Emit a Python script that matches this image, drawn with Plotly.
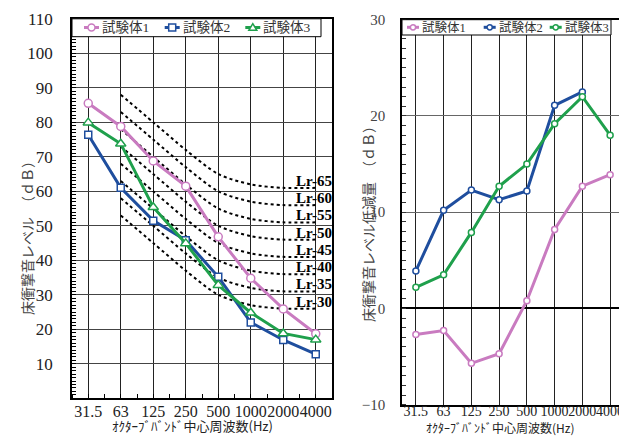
import plotly.graph_objects as go

# ---------------- data ----------------
freq_labels = ["31.5", "63", "125", "250", "500", "1000", "2000", "4000"]
series_names = ["試験体1", "試験体2", "試験体3"]

# 床衝撃音レベル (dB)
level_s1 = [85.5, 78.8, 68.8, 61.5, 46.8, 34.8, 25.9, 18.7]
level_s2 = [76.4, 61.0, 51.5, 45.8, 35.2, 22.0, 16.9, 12.8]
level_s3 = [79.9, 73.8, 55.4, 44.9, 32.8, 24.8, 18.8, 17.0]

# 床衝撃音レベル低減量 (dB)
reduct_s1 = [-2.7, -2.3, -5.7, -4.7, 0.8, 8.2, 12.7, 13.9]
reduct_s2 = [3.9, 10.2, 12.3, 11.3, 12.2, 21.1, 22.5, None]
reduct_s3 = [2.2, 3.5, 7.9, 12.7, 15.0, 19.2, 22.0, 18.0]

# Lr reference curves (63 Hz .. 4000 Hz)
lr_freq_labels = ["63", "125", "250", "500", "1000", "2000", "4000"]
lr_names = ["Lr-65", "Lr-60", "Lr-55", "Lr-50", "Lr-45", "Lr-40", "Lr-35", "Lr-30"]
lr65 = [88, 80, 72, 65, 62, 61, 61]
lr60 = [83, 75, 67, 60, 57, 56, 56]
lr55 = [78, 70, 62, 55, 52, 51, 51]
lr50 = [73, 65, 57, 50, 47, 46, 46]
lr45 = [68, 60, 52, 45, 42, 41, 41]
lr40 = [63, 55, 47, 40, 37, 36, 36]
lr35 = [58, 50, 42, 35, 32, 31, 31]
lr30 = [53, 45, 37, 30, 27, 26, 26]
lr_curves = [lr65, lr60, lr55, lr50, lr45, lr40, lr35, lr30]

left_ytick_vals = [10, 20, 30, 40, 50, 60, 70, 80, 90, 100, 110]
right_ytick_vals = [-10, 0, 10, 20, 30]

# ---------------- style ----------------
PINK = "#C97BC0"
BLUE = "#1F4E9E"
GREEN = "#1FA04C"
SERIF = "Liberation Serif, Noto Sans CJK JP"
JP = "Noto Sans CJK JP"

W, H = 627, 436

def fx(px):
    return px / W

def fy(py):
    return 1 - py / H

pos = {f: i for i, f in enumerate(freq_labels)}
xs = [pos[f] for f in freq_labels]
lr_xs = [pos[f] for f in lr_freq_labels]

fig = go.Figure()

# Lr curves
for name, vals in zip(lr_names, lr_curves):
    fig.add_trace(go.Scatter(
        x=lr_xs, y=vals, mode="lines", xaxis="x", yaxis="y",
        line=dict(color="black", width=2, dash="dot", shape="spline", smoothing=0.8),
        showlegend=False, hoverinfo="skip"))

left_specs = [
    (level_s1, PINK, "circle", 8),
    (level_s2, BLUE, "square", 7),
    (level_s3, GREEN, "triangle-up", 9),
]
for name, (vals, col, sym, sz) in zip(series_names, left_specs):
    fig.add_trace(go.Scatter(
        x=xs, y=vals, mode="lines+markers", name=name, xaxis="x", yaxis="y",
        line=dict(color=col, width=3),
        marker=dict(symbol=sym, size=sz, color="white", line=dict(color=col, width=1.5)),
        showlegend=False))

right_specs = [(reduct_s1, PINK), (reduct_s2, BLUE), (reduct_s3, GREEN)]
for name, (vals, col) in zip(series_names, right_specs):
    fig.add_trace(go.Scatter(
        x=xs, y=vals, mode="lines+markers", name=name, xaxis="x2", yaxis="y2",
        line=dict(color=col, width=3),
        marker=dict(symbol="circle", size=6, color="white", line=dict(color=col, width=1.5)),
        showlegend=False))

# Lr labels
for name, vals in zip(lr_names, lr_curves):
    fig.add_annotation(x=7.5, y=vals[-1], xref="x", yref="y", text="<b>%s</b>" % name,
                       showarrow=False, xanchor="right", yanchor="middle", yshift=7, xshift=2,
                       font=dict(family="Liberation Serif", size=15, color="black"))

# ---------------- hand-built legends (layout decoration) ----------------
def draw_legend(box, starts, yc, line_len, symbols, colors, font_size, msize):
    x0, x1, y0, y1 = box
    fig.add_shape(type="rect", xref="paper", yref="paper",
                  x0=fx(x0), x1=fx(x1), y0=fy(y1), y1=fy(y0),
                  fillcolor="white", line=dict(color="black", width=1))
    for s, sym, col, name in zip(starts, symbols, colors, series_names):
        fig.add_shape(type="line", xref="paper", yref="paper",
                      x0=fx(s), x1=fx(s + line_len), y0=fy(yc), y1=fy(yc),
                      line=dict(color=col, width=3))
        cx = s + line_len / 2
        r = msize
        if sym == "circle":
            fig.add_shape(type="circle", xref="paper", yref="paper",
                          x0=fx(cx - r), x1=fx(cx + r), y0=fy(yc + r), y1=fy(yc - r),
                          fillcolor="white", line=dict(color=col, width=1.5))
        elif sym == "square":
            fig.add_shape(type="rect", xref="paper", yref="paper",
                          x0=fx(cx - r), x1=fx(cx + r), y0=fy(yc + r), y1=fy(yc - r),
                          fillcolor="white", line=dict(color=col, width=1.5))
        else:
            path = "M %f,%f L %f,%f L %f,%f Z" % (
                fx(cx - r - 0.5), fy(yc + r * 0.8), fx(cx + r + 0.5), fy(yc + r * 0.8),
                fx(cx), fy(yc - r * 1.1))
            fig.add_shape(type="path", xref="paper", yref="paper", path=path,
                          fillcolor="white", line=dict(color=col, width=1.5))
        fig.add_annotation(x=fx(s + line_len + 1), y=fy(yc), xref="paper", yref="paper",
                           text=name, showarrow=False, xanchor="left", yanchor="middle",
                           font=dict(family=SERIF, size=font_size, color="#333"))

draw_legend((64, 313, 10.8, 28.7), [76, 156.7, 237.3], 19.5, 15,
            ["circle", "square", "triangle"], [PINK, BLUE, GREEN], 13.5, 3.5)
draw_legend((394, 603, 11.7, 27), [399, 475.7, 541.7], 19.3, 12,
            ["circle", "circle", "circle"], [PINK, BLUE, GREEN], 12.5, 2.6)

# axis titles
fig.add_annotation(x=fx(19), y=fy(227), xref="paper", yref="paper", text="床衝撃音レベル　（ｄＢ）",
                   textangle=-90, showarrow=False, xanchor="center", yanchor="middle",
                   font=dict(family=JP, size=14, color="#444"))
fig.add_annotation(x=fx(360), y=fy(213), xref="paper", yref="paper", text="床衝撃音レベル低減量　（ｄＢ）",
                   textangle=-90, showarrow=False, xanchor="center", yanchor="middle",
                   font=dict(family=JP, size=14, color="#444"))
fig.add_annotation(x=fx(184), y=fy(417), xref="paper", yref="paper", text="ｵｸﾀｰﾌﾞﾊﾞﾝﾄﾞ中心周波数(Hz)",
                   showarrow=False, xanchor="center", yanchor="middle",
                   font=dict(family=JP, size=13, color="#222"))
fig.add_annotation(x=fx(492), y=fy(419.5), xref="paper", yref="paper", text="ｵｸﾀｰﾌﾞﾊﾞﾝﾄﾞ中心周波数(Hz)",
                   showarrow=False, xanchor="center", yanchor="middle",
                   font=dict(family=JP, size=12, color="#222"))

left_xdom = [fx(64), fx(324)]
right_xdom = [fx(394), fx(616)]

fig.update_layout(
    width=W, height=H, margin=dict(l=0, r=0, t=0, b=0, autoexpand=False),
    paper_bgcolor="white", plot_bgcolor="white", showlegend=False,
    font=dict(family=SERIF, color="#222"),
    xaxis=dict(domain=left_xdom, anchor="y", range=[-0.5, 7.5], tickmode="array",
               tickvals=xs, ticktext=freq_labels, tickangle=0, automargin=False,
               showgrid=True, gridcolor="#222", gridwidth=1.2,
               showline=True, linecolor="black", linewidth=1.5, mirror=True, ticks="",
               ticklabelstandoff=-2, tickfont=dict(size=16, color="#222"), zeroline=False,
               minor=dict(dtick=0.5, tick0=0, ticks="inside", ticklen=5, tickcolor="black", showgrid=False)),
    yaxis=dict(domain=[fy(390.3), fy(10.8)], anchor="x", range=[0, 110], tickmode="array",
               tickvals=left_ytick_vals, automargin=False,
               showgrid=True, gridcolor="#444", gridwidth=1.2, showline=True, linecolor="black",
               linewidth=1.5, mirror=True, ticks="", ticklabelstandoff=14,
               tickfont=dict(size=17, color="#222"), zeroline=False,
               minor=dict(dtick=1, ticks="inside", ticklen=4, tickcolor="black", showgrid=False)),
    xaxis2=dict(domain=right_xdom, anchor="y2", range=[-0.5, 7.5], tickmode="array",
                tickvals=xs, ticktext=freq_labels, tickangle=0, automargin=False,
                showgrid=True, gridcolor="#222", gridwidth=1.2,
                showline=True, linecolor="black", linewidth=1.5, mirror=True, ticks="",
                ticklabelstandoff=-7, tickfont=dict(size=14, color="#222"), zeroline=False),
    yaxis2=dict(domain=[fy(396.7), fy(11.7)], anchor="x2", range=[-10, 30], tickmode="array",
                tickvals=right_ytick_vals, automargin=False,
                showgrid=True, gridcolor="#666", gridwidth=1.2, showline=True, linecolor="black",
                linewidth=1.5, mirror=True, ticks="", ticklabelstandoff=12,
                tickfont=dict(size=15, color="#444"), zeroline=True, zerolinecolor="black",
                zerolinewidth=1.5,
                minor=dict(dtick=1, ticks="inside", ticklen=4, tickcolor="#333", showgrid=False)),
    xaxis3=dict(overlaying="x2", anchor="free", position=fy(300), range=[-0.5, 7.5], automargin=False,
                tickmode="array", tickvals=[i + 0.5 for i in range(-1, 8)], ticks="inside",
                ticklen=5, tickcolor="black", showticklabels=False, showgrid=False,
                showline=False, zeroline=False),
)

fig.write_html("out.html")
